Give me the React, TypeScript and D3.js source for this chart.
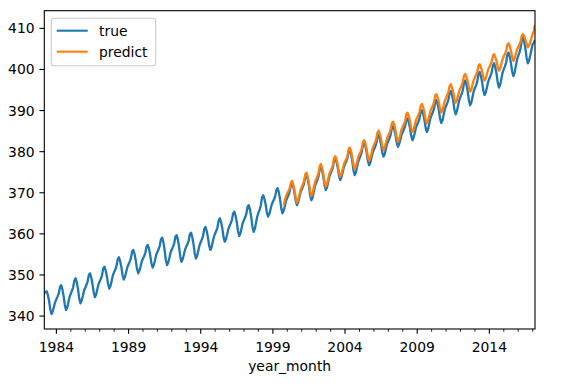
import React from 'react';
import * as d3 from 'd3';

// monthly series, true starts 1983-03, predict starts 1999-10
const trueStart = [1983, 2];
const predictStart = [1999, 9];

const trueValues = [
  345.5, 345.9, 346.0, 345.1, 343.6, 341.6, 340.5, 341.1, 342.3, 343.4, // 1983 (Mar-Dec)
  344.1, 344.8, 345.5, 347.1, 347.5, 346.5, 344.9, 342.7, 341.5, 342.1, 343.4, 344.7, // 1984
  345.5, 346.2, 347.0, 348.7, 349.2, 348.2, 346.6, 344.3, 343.1, 343.7, 344.9, 346.2,
  346.9, 347.6, 348.4, 350.0, 350.4, 349.4, 347.9, 345.8, 344.6, 345.2, 346.5, 347.7,
  348.4, 349.1, 349.9, 351.6, 352.0, 351.1, 349.7, 347.8, 346.7, 347.3, 348.6, 349.9,
  350.7, 351.3, 352.2, 353.8, 354.3, 353.4, 352.0, 350.0, 348.9, 349.5, 350.7, 351.9,
  352.6, 353.3, 354.1, 355.7, 356.1, 355.1, 353.6, 351.5, 350.4, 351.0, 352.1, 353.3, // 1989
  354.0, 354.6, 355.4, 356.9, 357.3, 356.4, 354.9, 352.9, 351.8, 352.4, 353.6, 354.9,
  355.6, 356.3, 357.1, 358.7, 359.1, 358.0, 356.2, 353.7, 352.4, 353.0, 354.2, 355.5,
  356.2, 356.9, 357.7, 359.3, 359.7, 358.6, 356.9, 354.5, 353.2, 353.8, 355.0, 356.2,
  356.9, 357.5, 358.3, 359.9, 360.3, 359.2, 357.6, 355.3, 354.0, 354.6, 355.9, 357.2,
  358.0, 358.7, 359.5, 361.2, 361.7, 360.7, 359.3, 357.2, 356.1, 356.7, 358.0, 359.3, // 1994
  360.1, 360.8, 361.6, 363.3, 363.8, 362.8, 361.4, 359.2, 358.1, 358.7, 359.9, 361.2,
  361.9, 362.6, 363.4, 365.0, 365.4, 364.4, 362.9, 360.7, 359.5, 360.1, 361.4, 362.7,
  363.4, 364.1, 364.9, 366.6, 367.0, 365.9, 364.2, 361.8, 360.5, 361.2, 362.7, 364.2,
  365.1, 365.9, 366.9, 368.9, 369.4, 368.5, 367.2, 365.2, 364.2, 364.8, 365.9, 367.1,
  367.8, 368.4, 369.2, 370.7, 371.1, 370.1, 368.5, 366.2, 365.0, 365.6, 366.8, 368.1, // 1999
  368.8, 369.5, 370.3, 371.9, 372.3, 371.4, 370.0, 368.1, 367.0, 367.6, 368.8, 370.1,
  370.8, 371.5, 372.3, 373.9, 374.3, 373.3, 371.7, 369.4, 368.2, 368.8, 370.2, 371.6,
  372.4, 373.1, 374.0, 375.8, 376.3, 375.3, 373.9, 371.8, 370.7, 371.3, 372.6, 373.9,
  374.7, 375.4, 376.2, 377.9, 378.4, 377.5, 376.1, 374.2, 373.1, 373.7, 374.9, 376.2,
  376.9, 377.6, 378.4, 380.0, 380.4, 379.4, 377.8, 375.5, 374.3, 374.9, 376.3, 377.6, // 2004
  378.4, 379.1, 380.0, 381.7, 382.2, 381.3, 379.8, 377.8, 376.7, 377.3, 378.5, 379.8,
  380.5, 381.2, 382.0, 383.6, 384.0, 383.1, 381.8, 379.8, 378.8, 379.4, 380.7, 381.9,
  382.6, 383.3, 384.1, 385.8, 386.2, 385.4, 384.1, 382.2, 381.2, 381.8, 382.9, 384.1,
  384.8, 385.4, 386.2, 387.7, 388.1, 387.2, 385.8, 383.9, 382.8, 383.4, 384.6, 385.9,
  386.6, 387.3, 388.1, 389.7, 390.1, 389.2, 387.8, 385.9, 384.8, 385.4, 386.8, 388.1, // 2009
  388.9, 389.6, 390.4, 392.1, 392.6, 391.6, 390.2, 388.1, 387.0, 387.6, 389.0, 390.3,
  391.1, 391.8, 392.6, 394.3, 394.8, 393.8, 392.4, 390.2, 389.1, 389.8, 391.2, 392.5,
  393.4, 394.1, 395.0, 396.8, 397.3, 396.3, 394.7, 392.5, 391.3, 391.9, 393.3, 394.7,
  395.5, 396.2, 397.1, 398.9, 399.4, 398.4, 397.0, 394.9, 393.8, 394.4, 395.7, 397.0,
  397.8, 398.5, 399.3, 401.0, 401.5, 400.5, 399.0, 396.8, 395.6, 396.3, 397.7, 399.2, // 2014
  400.0, 400.8, 401.7, 403.6, 404.1, 403.1, 401.6, 399.5, 398.4, 399.2, 400.8, 402.3,
  403.3, 404.1, 405.2, 407.2, 407.8, 406.7, 405.1, 402.8, 401.5, 402.1, 403.4, 404.8,
  406.2, 406.5, 407.2, // 2017 (Jan-Mar)
];

const predictValues = [
  366.9, 368.2, 369.2, // 1999 (Oct-Dec)
  369.9, 370.4, 371.1, 372.5, 372.9, 372.0, 370.6, 368.7, 367.6, 368.2, 369.4, 370.7, // 2000
  371.4, 372.1, 372.9, 374.5, 374.9, 373.9, 372.4, 370.3, 369.2, 369.8, 371.2, 372.5,
  373.3, 374.0, 374.8, 376.5, 377.0, 376.1, 374.6, 372.6, 371.5, 372.1, 373.4, 374.6,
  375.3, 376.0, 376.8, 378.5, 378.9, 378.1, 376.8, 374.9, 373.9, 374.5, 375.7, 376.9,
  377.6, 378.2, 379.0, 380.6, 381.0, 380.1, 378.7, 376.8, 375.7, 376.3, 377.5, 378.7, // 2004
  379.4, 380.0, 380.8, 382.4, 382.8, 382.0, 380.7, 378.8, 377.8, 378.4, 379.6, 380.9,
  381.6, 382.3, 383.1, 384.7, 385.1, 384.3, 383.1, 381.3, 380.4, 381.0, 382.1, 383.3,
  384.0, 384.6, 385.4, 386.9, 387.3, 386.5, 385.2, 383.4, 382.4, 383.0, 384.2, 385.4,
  386.1, 386.7, 387.5, 389.1, 389.5, 388.7, 387.5, 385.7, 384.8, 385.3, 386.5, 387.7,
  388.3, 389.0, 389.7, 391.2, 391.6, 390.8, 389.6, 387.8, 386.9, 387.5, 388.7, 389.9, // 2009
  390.6, 391.2, 392.0, 393.6, 394.0, 393.2, 392.1, 390.4, 389.5, 390.1, 391.2, 392.4,
  393.1, 393.7, 394.5, 396.0, 396.4, 395.6, 394.5, 392.8, 391.9, 392.5, 393.7, 394.8,
  395.5, 396.2, 397.0, 398.5, 398.9, 398.2, 397.1, 395.5, 394.6, 395.1, 396.3, 397.4,
  398.1, 398.7, 399.4, 400.9, 401.3, 400.6, 399.6, 398.1, 397.3, 397.8, 398.9, 400.0,
  400.6, 401.2, 401.9, 403.3, 403.7, 403.0, 402.0, 400.5, 399.7, 400.2, 401.4, 402.5, // 2014
  403.2, 403.8, 404.5, 406.0, 406.4, 405.7, 404.6, 403.0, 402.1, 402.6, 403.7, 404.8,
  405.5, 406.1, 406.8, 408.2, 408.6, 408.1, 407.2, 406.2, 405.4, 405.8, 406.6, 407.6,
  408.6, 409.4, 410.8, // 2017 (Jan-Mar)
];

const yTicks = [340, 350, 360, 370, 380, 390, 400, 410];
const xMajorYears = [1984, 1989, 1994, 1999, 2004, 2009, 2014];
const xMinorYears = d3.range(1984, 2018).filter(y => !xMajorYears.includes(y));
const seriesNames = ['true', 'predict'];
const colors = ['#1f77b4', '#ff7f0e'];

const W = 574, H = 386;
const plot = { left: 44.3, right: 535, top: 10.7, bottom: 329 };
const font = '"DejaVu Sans", sans-serif';
const fs = 13.9;

const toPoints = (start: number[], vals: number[]) =>
  vals.map((v, i) => ({ date: new Date(start[0], start[1] + i, 1), value: v }));

const App: React.FC = () => {
  const truePts = toPoints(trueStart, trueValues);
  const predPts = toPoints(predictStart, predictValues);

  const x = d3.scaleTime()
    .domain([truePts[0].date, truePts[truePts.length - 1].date])
    .range([plot.left, plot.right]);
  const y = d3.scaleLinear().domain([336.85, 414.3]).range([plot.bottom, plot.top]);

  const line = d3.line<{ date: Date; value: number }>()
    .x(d => x(d.date))
    .y(d => y(d.value));

  const lw = 2.3;

  return (
    <div style={{ position: 'fixed', left: 0, top: 0 }}>
      <svg width={W} height={H} style={{ display: 'block', background: '#fff' }} fontFamily={font}>
        <defs>
          <clipPath id="plotclip">
            <rect x={plot.left} y={plot.top} width={plot.right - plot.left} height={plot.bottom - plot.top} />
          </clipPath>
        </defs>

        <g clipPath="url(#plotclip)" fill="none" strokeLinejoin="round" strokeWidth={lw}>
          <path d={line(truePts) || ''} stroke={colors[0]} />
          <path d={line(predPts) || ''} stroke={colors[1]} />
        </g>

        {/* spines */}
        <rect x={plot.left} y={plot.top} width={plot.right - plot.left} height={plot.bottom - plot.top}
          fill="none" stroke="#000" strokeWidth={1.1} />

        {/* y axis */}
        {yTicks.map(t => (
          <g key={t}>
            <line x1={plot.left - 4.86} x2={plot.left} y1={y(t)} y2={y(t)} stroke="#000" strokeWidth={1.1} />
            <text x={plot.left - 9.7} y={y(t) + 5} textAnchor="end" fontSize={fs} fill="#000">{t}</text>
          </g>
        ))}

        {/* x axis */}
        {xMinorYears.map(yr => {
          const px = x(new Date(yr, 0, 1));
          if (px > plot.right) return null;
          return <line key={yr} x1={px} x2={px} y1={plot.bottom} y2={plot.bottom + 2.78} stroke="#000" strokeWidth={0.83} />;
        })}
        {xMajorYears.map(yr => {
          const px = x(new Date(yr, 0, 1));
          return (
            <g key={yr}>
              <line x1={px} x2={px} y1={plot.bottom} y2={plot.bottom + 4.86} stroke="#000" strokeWidth={1.1} />
              <text x={px} y={351.5} textAnchor="middle" fontSize={fs} fill="#000">{yr}</text>
            </g>
          );
        })}
        <text x={(plot.left + plot.right) / 2} y={371} textAnchor="middle" fontSize={fs} fill="#000">year_month</text>

        {/* legend */}
        <g>
          <rect x={51.3} y={18.3} width={104.4} height={47.4} rx={2.8} fill="#fff" fillOpacity={0.8}
            stroke="#cccccc" strokeWidth={1.1} />
          {seriesNames.map((name, i) => {
            const ly = 30.7 + i * 21;
            return (
              <g key={name}>
                <line x1={56.7} x2={87.7} y1={ly} y2={ly} stroke={colors[i]} strokeWidth={2.08} />
                <text x={99} y={ly + 5} fontSize={fs} fill="#000">{name}</text>
              </g>
            );
          })}
        </g>
      </svg>
    </div>
  );
};

export default App;
